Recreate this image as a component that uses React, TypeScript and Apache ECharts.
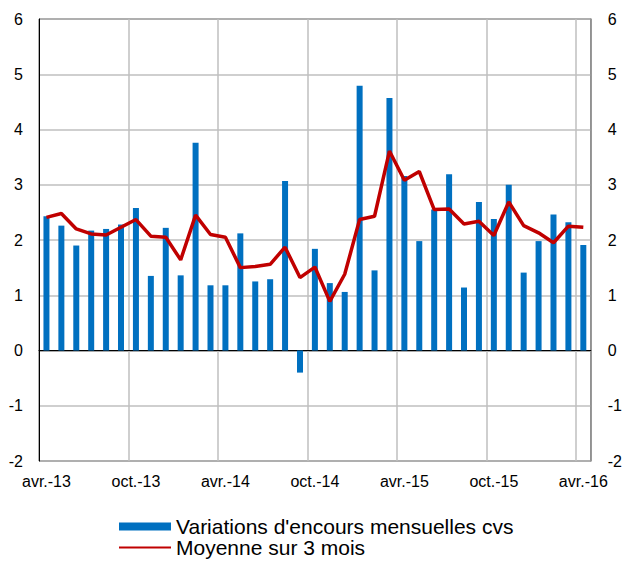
import React, { useEffect, useRef } from "react";
import * as echarts from "echarts";

const categories = [
  "avr.-13", "mai-13", "juin-13", "juil.-13", "août-13", "sept.-13",
  "oct.-13", "nov.-13", "déc.-13", "janv.-14", "févr.-14", "mars-14",
  "avr.-14", "mai-14", "juin-14", "juil.-14", "août-14", "sept.-14",
  "oct.-14", "nov.-14", "déc.-14", "janv.-15", "févr.-15", "mars-15",
  "avr.-15", "mai-15", "juin-15", "juil.-15", "août-15", "sept.-15",
  "oct.-15", "nov.-15", "déc.-15", "janv.-16", "févr.-16", "mars-16",
  "avr.-16",
];

const monthlyChanges = [
  2.43, 2.26, 1.9, 2.17, 2.2, 2.28,
  2.58, 1.35, 2.22, 1.36, 3.76, 1.18,
  1.18, 2.12, 1.25, 1.29, 3.07, -0.4,
  1.84, 1.22, 1.06, 4.79, 1.45, 4.57,
  3.16, 1.98, 2.55, 3.19, 1.14, 2.69,
  2.38, 3.0, 1.41, 1.98, 2.46, 2.32,
  1.91,
];

const threeMonthAverage = [
  2.41, 2.48, 2.2, 2.11, 2.09, 2.23,
  2.37, 2.07, 2.05, 1.64, 2.45, 2.1,
  2.05, 1.5, 1.52, 1.56, 1.87, 1.32,
  1.51, 0.89, 1.38, 2.37, 2.43, 3.61,
  3.08, 3.24, 2.55, 2.56, 2.29, 2.34,
  2.08, 2.69, 2.26, 2.13, 1.95, 2.25,
  2.23,
];

const seriesNames = ["Variations d'encours mensuelles cvs", "Moyenne sur 3 mois"];

const FONT = "'Liberation Sans', Arial, sans-serif";

export default function App() {
  const ref = useRef<HTMLDivElement>(null);
  useEffect(() => {
    if (!ref.current) return;
    const chart = echarts.init(ref.current, null, { renderer: "svg" });
    const grayGrid = "#BFBFBF";
    chart.setOption({
      animation: false,
      textStyle: { fontFamily: FONT },
      grid: {
        left: 39,
        right: 30,
        top: 19,
        bottom: 100,
        show: true,
        borderColor: "#000",
        borderWidth: 1,
        containLabel: false,
      },
      legend: {
        orient: "vertical",
        left: 118,
        top: 516,
        padding: 0,
        height: 45,
        itemWidth: 52,
        itemHeight: 8,
        itemGap: 0,
        textStyle: { fontSize: 21, lineHeight: 20, color: "#000", fontFamily: FONT },
        data: [
          { name: seriesNames[0], icon: "rect" },
          { name: seriesNames[1], itemStyle: { opacity: 0 } },
        ],
      },
      xAxis: {
        type: "category",
        data: categories,
        boundaryGap: true,
        axisLine: { show: true, lineStyle: { color: "#000", width: 1 } },
        axisTick: { show: false, interval: 5 },
        axisLabel: {
          interval: 5,
          fontSize: 16,
          color: "#000",
          margin: 12,
          fontFamily: FONT,
        },
        splitLine: {
          show: true,
          interval: 5,
          lineStyle: { color: grayGrid, width: 1.5 },
        },
      },
      yAxis: [
        {
          type: "value",
          min: -2,
          max: 6,
          interval: 1,
          position: "left",
          axisLine: { show: true, onZero: false, lineStyle: { color: "#000", width: 1 } },
          axisTick: { show: false },
          axisLabel: { fontSize: 16, color: "#000", margin: 16, fontFamily: FONT },
          splitLine: {
            show: true,
            lineStyle: {
              color: [grayGrid, grayGrid, "#8C8C8C", grayGrid, grayGrid, grayGrid, grayGrid, grayGrid, grayGrid],
              width: 1.5,
            },
          },
        },
        {
          type: "value",
          min: -2,
          max: 6,
          interval: 1,
          position: "right",
          axisLine: { show: true, onZero: false, lineStyle: { color: "#8C8C8C", width: 1.5 } },
          axisTick: { show: false },
          axisLabel: { fontSize: 16, color: "#000", margin: 17, fontFamily: FONT },
          splitLine: { show: false },
        },
      ],
      series: [
        {
          name: seriesNames[0],
          type: "bar",
          data: monthlyChanges,
          barWidth: 6,
          itemStyle: { color: "#0070C0" },
          z: 2,
        },
        {
          name: seriesNames[1],
          type: "line",
          data: threeMonthAverage,
          symbol: "none",
          lineStyle: { color: "#C00000", width: 3.5 },
          itemStyle: { color: "#C00000" },
          z: 3,
        },
      ],
    });
    return () => chart.dispose();
  }, []);
  return <div ref={ref} style={{ width: 625, height: 561, position: "absolute", left: 0, top: 0 }} />;
}
